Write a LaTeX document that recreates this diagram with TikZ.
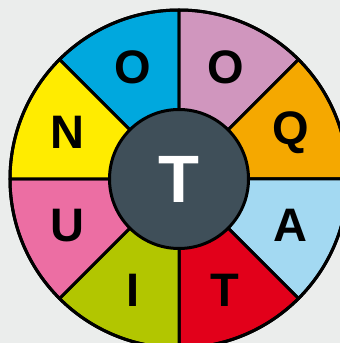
\documentclass[tikz,border=0pt]{standalone}
\usepackage{fontspec}
\setmainfont{Liberation Sans}
\usetikzlibrary{calc}
\definecolor{bg}{HTML}{EBEDEC}
\definecolor{cblue}{HTML}{00A8DE}
\definecolor{cmauve}{HTML}{D096BE}
\definecolor{corange}{HTML}{F5A800}
\definecolor{clight}{HTML}{A3D9F2}
\definecolor{cred}{HTML}{E2001A}
\definecolor{clime}{HTML}{B2C600}
\definecolor{cpink}{HTML}{EC6EA3}
\definecolor{cyellow}{HTML}{FFEC00}
\definecolor{cdark}{HTML}{3F4F59}
\begin{document}
\begin{tikzpicture}[x=1pt,y=1pt,
  sector/.style={draw=black,line width=3pt,line join=round},
  letter/.style={font=\fontsize{47}{47}\selectfont\bfseries,text=black,inner sep=0pt}]
\fill[bg] (0,0) rectangle (340,343);
\useasboundingbox (0,0) rectangle (340,343);
\clip (0,0) rectangle (340,343);
\coordinate (c) at (179,164);
\def\R{169}
\foreach \a/\col in {90/cblue,45/cmauve,0/corange,-45/clight,-90/cred,-135/clime,180/cpink,135/cyellow}{
  \filldraw[sector,fill=\col] (c) -- ++(\a:\R) arc[start angle=\a,delta angle=45,radius=\R] -- cycle;
}
\draw[line width=3pt] (c) circle[radius=\R];
\node[circle,fill=cdark,draw=black,line width=3pt,minimum size=139pt,inner sep=0pt] (hub) at (c) {};
\node[font=\fontsize{67}{67}\selectfont\bfseries,text=white,inner sep=0pt] (tc) at (c) {T};
\node[letter] (l1) at ($(c)+(112.5:121)$) {O};
\node[letter] (l2) at ($(c)+(67.5:121)$) {O};
\node[letter] (l3) at ($(c)+(22.5:121)$) {Q};
\node[letter] (l4) at ($(c)+(-22.5:121)$) {A};
\node[letter] (l5) at ($(c)+(-67.5:121)$) {T};
\node[letter] (l6) at ($(c)+(-112.5:121)$) {I};
\node[letter] (l7) at ($(c)+(-157.5:121)$) {U};
\node[letter] (l8) at ($(c)+(157.5:121)$) {N};
\end{tikzpicture}
\end{document}
